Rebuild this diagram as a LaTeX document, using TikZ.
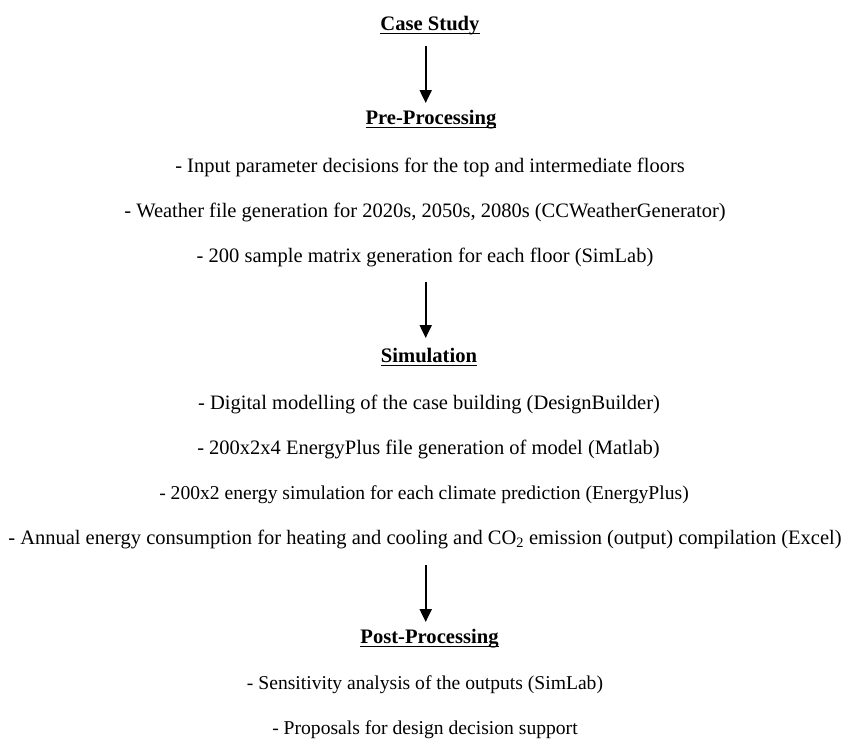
\documentclass[tikz,border=0pt]{standalone}
\usepackage{fontspec}
\setmainfont{Liberation Serif}
\usetikzlibrary{arrows.meta}
\newcommand\myul[1]{\setbox0\hbox{#1}\rlap{\raisebox{-4.2pt}{\rule{\wd0}{1.5pt}}}\box0}
\begin{document}
\begin{tikzpicture}[x=1pt,y=1pt,
  txt/.style={inner sep=0pt, anchor=base, font=\fontsize{20.5}{24}\selectfont},
  txts/.style={inner sep=0pt, anchor=base, font=\fontsize{19.6}{23}\selectfont},
  head/.style={inner sep=0pt, anchor=base, font=\fontsize{20.6}{24}\selectfont\bfseries},
  arr/.style={line width=2pt, -{Triangle[length=13pt,width=12pt]}}]
\useasboundingbox (0,0) rectangle (848,-744);
\node[head] (cs) at (430,-30) {\myul{Case Study}};
\node[head] (pre) at (431,-124) {\myul{Pre-Processing}};
\node[txt] (p1) at (430,-172) {- Input parameter decisions for the top and intermediate floors};
\node[txt] (p2) at (425,-217) {- Weather file generation for 2020s, 2050s, 2080s (CCWeatherGenerator)};
\node[txt] (p3) at (425,-262) {- 200 sample matrix generation for each floor (SimLab)};
\node[head] (sim) at (429,-362) {\myul{Simulation}};
\node[txt] (s1) at (429,-409) {- Digital modelling of the case building (DesignBuilder)};
\node[txt] (s2) at (428.5,-454) {- 200x2x4 EnergyPlus file generation of model (Matlab)};
\node[txts] (s3) at (424,-499) {- 200x2 energy simulation for each climate prediction (EnergyPlus)};
\node[txt] (s4) at (425,-544) {- Annual energy consumption for heating and cooling and CO\textsubscript{2} emission (output) compilation (Excel)};
\node[head] (post) at (429.5,-643) {\myul{Post-Processing}};
\node[txts] (q1) at (425,-689) {- Sensitivity analysis of the outputs (SimLab)};
\node[txts] (q2) at (425,-734) {- Proposals for design decision support};
\coordinate (a1) at (425.7,-46);
\coordinate (b1) at (425.7,-103);
\coordinate (a2) at (425.7,-282);
\coordinate (b2) at (425.7,-338);
\coordinate (a3) at (425.7,-565);
\coordinate (b3) at (425.7,-622);
\draw[arr] (a1) -- (b1);
\draw[arr] (a2) -- (b2);
\draw[arr] (a3) -- (b3);
\end{tikzpicture}
\end{document}
